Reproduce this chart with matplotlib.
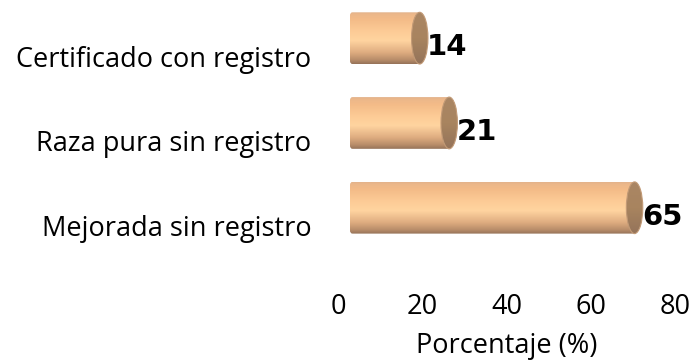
import numpy as np
import matplotlib
matplotlib.use("Agg")
import matplotlib.pyplot as plt
from matplotlib.patches import Ellipse, FancyBboxPatch
from matplotlib.colors import LinearSegmentedColormap
from matplotlib.transforms import ScaledTranslation

# Data (bottom to top)
categories = ["Mejorada sin registro", "Raza pura sin registro", "Certificado con registro"]
values = [65, 21, 14]
x_ticks = [0, 20, 40, 60, 80]
x_label = "Porcentaje (%)"

W, H, DPI = 698, 361, 100
fig = plt.figure(figsize=(W / DPI, H / DPI), dpi=DPI)
fig.patch.set_facecolor("white")

ax_left, ax_right = 338, 675
ax_bottom_px, ax_top_px = 290, 0
ax = fig.add_axes([ax_left / W, (H - ax_bottom_px) / H,
                   (ax_right - ax_left) / W, (ax_bottom_px - ax_top_px) / H])

# cylinder styling (3D depth shift and proportions)
depth = 5.4        # x shift of the end cap centre from the value
start = 2.85       # flat left end of the cylinders
cap_hw = 1.95      # half width of the end cap ellipse (data units)
bar_h = 0.61       # cylinder diameter (category units)

body_cmap = LinearSegmentedColormap.from_list(
    "body",
    [(0.0, "#957258"), (0.08, "#b88d6a"), (0.22, "#deac80"), (0.45, "#ffd4a0"),
     (0.62, "#fdcc97"), (0.85, "#f4bc88"), (0.96, "#ecb78a"), (1.0, "#e2b28b")])
cap_cmap = LinearSegmentedColormap.from_list(
    "cap", [(0.0, "#94735a"), (0.5, "#a8845f"), (1.0, "#aa8664")])

grad = np.linspace(0, 1, 256).reshape(-1, 1)

for i, v in enumerate(values):
    xe = v + depth
    y0, y1 = i - bar_h / 2, i + bar_h / 2
    body = FancyBboxPatch((start, y0), xe - start, bar_h,
                          boxstyle="round,pad=0,rounding_size=0.6",
                          mutation_aspect=0.06, facecolor="none",
                          edgecolor="none", transform=ax.transData)
    ax.add_patch(body)
    im = ax.imshow(grad, cmap=body_cmap, origin="lower", aspect="auto",
                   extent=(start, xe, y0, y1), interpolation="bilinear", zorder=2)
    im.set_clip_path(body)

    cap = Ellipse((xe, i), 2 * cap_hw, bar_h, facecolor="none", edgecolor="none")
    ax.add_patch(cap)
    imc = ax.imshow(grad, cmap=cap_cmap, origin="lower", aspect="auto",
                    extent=(xe - cap_hw, xe + cap_hw, y0, y1),
                    interpolation="bilinear", zorder=3)
    imc.set_clip_path(cap)
    ax.add_patch(Ellipse((xe, i), 2 * cap_hw, bar_h, facecolor="none",
                         edgecolor="#c29a76", linewidth=0.8, zorder=4))

    lbl_off = ScaledTranslation(-1 / DPI, -9 / DPI, fig.dpi_scale_trans)
    ax.text(xe + cap_hw, i, f"{v}", ha="left", va="center",
            fontsize=21, fontweight="bold", family="DejaVu Sans",
            color="black", transform=ax.transData + lbl_off, zorder=5)

ax.set_xlim(0, 80)
ax.set_ylim(-0.97, 2.45)

for s in ax.spines.values():
    s.set_visible(False)

ax.set_xticks(x_ticks)
ax.set_xticklabels([str(t) for t in x_ticks], family="Open Sans", fontsize=19.5)
ax.tick_params(axis="x", length=0, pad=2)

ax.set_yticks(range(len(categories)))
ax.set_yticklabels(categories, family="Open Sans", fontsize=19.5)
ax.tick_params(axis="y", length=0, pad=19)
ytick_off = ScaledTranslation(0, -18 / DPI, fig.dpi_scale_trans)
for lab in ax.get_yticklabels():
    lab.set_transform(lab.get_transform() + ytick_off)

ax.set_xlabel(x_label, family="Open Sans", fontsize=19.5, labelpad=8)

fig.savefig("out.png", dpi=DPI, facecolor="white")
